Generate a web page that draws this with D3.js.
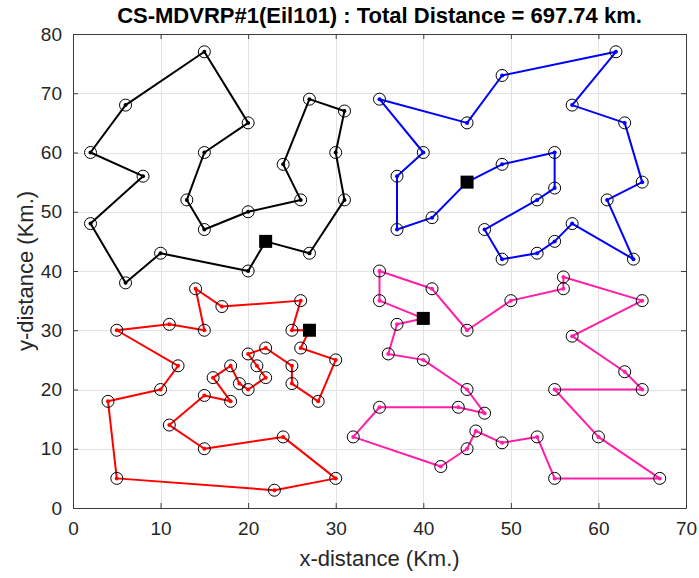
<!DOCTYPE html>
<html>
<head>
<meta charset="utf-8">
<script src="https://cdn.jsdelivr.net/npm/d3@7"></script>
<style>
  body { margin: 0; background: #fff; }
  text { font-family: "Liberation Sans", Arial, sans-serif; }
</style>
</head>
<body>
<div id="chart"></div>
<script>
// route data: depot first, customers in visiting order (route returns to depot)
const blackX = [22, 20, 10, 6, 2, 8, 2, 6, 15, 20, 15, 13, 15, 20, 26, 24, 27, 31, 30, 31, 27];
const blackY = [45, 40, 43, 38, 48, 56, 60, 68, 77, 65, 60, 52, 47, 50, 52, 58, 69, 67, 60, 52, 43];

const blueX = [45, 49, 55, 55, 53, 47, 49, 53, 55, 57, 64, 61, 65, 63, 57, 62, 49, 45, 35, 40, 37, 37, 41];
const blueY = [55, 58, 60, 54, 52, 47, 42, 43, 45, 48, 42, 52, 55, 65, 68, 77, 73, 65, 69, 60, 56, 47, 49];

const redX = [27, 25, 26, 17, 14, 15, 11, 5, 12, 10, 4, 5, 23, 30, 24, 15, 11, 15, 18, 16, 18, 19, 20, 22, 21, 20, 22, 25, 25, 28, 30, 26];
const redY = [30, 30, 35, 34, 37, 30, 31, 30, 24, 20, 18, 5, 3, 5, 12, 10, 14, 19, 18, 22, 24, 21, 20, 22, 24, 26, 27, 24, 21, 18, 25, 27];

const pinkX = [40, 35, 35, 41, 45, 50, 56, 56, 65, 57, 63, 65, 55, 60, 67, 55, 53, 49, 46, 45, 42, 32, 35, 44, 47, 45, 40, 36, 37];
const pinkY = [32, 35, 40, 37, 30, 35, 37, 39, 35, 29, 23, 20, 20, 12, 5, 5, 12, 11, 13, 10, 7, 12, 17, 17, 16, 20, 25, 26, 31];

const xTicks = [0, 10, 20, 30, 40, 50, 60, 70];
const yTicks = [0, 10, 20, 30, 40, 50, 60, 70, 80];

const routes = [
  { xs: blackX, ys: blackY, color: "#000000" },
  { xs: blueX, ys: blueY, color: "#0000ff" },
  { xs: redX, ys: redY, color: "#ff0000" },
  { xs: pinkX, ys: pinkY, color: "#ff1ea8" }
];

const width = 699, height = 578;
const margin = { left: 73, right: 13, top: 34, bottom: 70 };
const plotW = width - margin.left - margin.right;
const plotH = height - margin.top - margin.bottom;

const svg = d3.select("#chart").append("svg")
  .attr("width", width)
  .attr("height", height);

const x = d3.scaleLinear().domain([0, 70]).range([0, plotW]);
const y = d3.scaleLinear().domain([0, 80]).range([plotH, 0]);

const g = svg.append("g")
  .attr("transform", "translate(" + margin.left + "," + margin.top + ")");

// grid
g.append("g").selectAll("line.gx")
  .data(xTicks.slice(1, -1))
  .enter().append("line")
  .attr("x1", d => Math.round(x(d)) + 0.5).attr("x2", d => Math.round(x(d)) + 0.5)
  .attr("y1", 0).attr("y2", plotH)
  .attr("stroke", "#e3e3e3").attr("stroke-width", 1);
g.append("g").selectAll("line.gy")
  .data(yTicks.slice(1, -1))
  .enter().append("line")
  .attr("y1", d => Math.round(y(d)) + 0.5).attr("y2", d => Math.round(y(d)) + 0.5)
  .attr("x1", 0).attr("x2", plotW)
  .attr("stroke", "#e3e3e3").attr("stroke-width", 1);

// axes (ticks inside, on all four sides)
const axisColor = "#3c3c3c";
const tickFont = "19px";

const xAxis = g.append("g")
  .attr("transform", "translate(0," + plotH + ")")
  .call(d3.axisBottom(x).tickValues(xTicks).tickSizeInner(-5).tickSizeOuter(0).tickPadding(14));
const yAxis = g.append("g")
  .call(d3.axisLeft(y).tickValues(yTicks).tickSizeInner(-5).tickSizeOuter(0).tickPadding(11));
const xTop = g.append("g")
  .call(d3.axisTop(x).tickValues(xTicks).tickSizeInner(-5).tickSizeOuter(0).tickFormat(""));
const yRight = g.append("g")
  .attr("transform", "translate(" + plotW + ",0)")
  .call(d3.axisRight(y).tickValues(yTicks).tickSizeInner(-5).tickSizeOuter(0).tickFormat(""));

[xAxis, yAxis, xTop, yRight].forEach(a => {
  a.select(".domain").attr("stroke", axisColor);
  a.selectAll(".tick line").attr("stroke", axisColor);
  a.selectAll(".tick text")
    .style("font-size", tickFont)
    .style("font-family", "'Liberation Sans', Arial, sans-serif")
    .attr("fill", "#262626");
});

// routes
routes.forEach(r => {
  const pts = r.xs.map((v, i) => [v, r.ys[i]]);
  pts.push(pts[0]);
  const line = d3.line().x(d => x(d[0])).y(d => y(d[1]));

  g.append("path")
    .datum(pts)
    .attr("d", line)
    .attr("fill", "none")
    .attr("stroke", r.color)
    .attr("stroke-width", 2)
    .attr("stroke-linejoin", "round");

  const customers = pts.slice(1, -1);

  g.append("g").selectAll("circle.dot")
    .data(customers)
    .enter().append("circle")
    .attr("cx", d => x(d[0]))
    .attr("cy", d => y(d[1]))
    .attr("r", 2)
    .attr("fill", r.color);

  g.append("g").selectAll("circle.ring")
    .data(customers)
    .enter().append("circle")
    .attr("cx", d => x(d[0]))
    .attr("cy", d => y(d[1]))
    .attr("r", 6)
    .attr("fill", "none")
    .attr("stroke", "#000")
    .attr("stroke-width", 1);

  // depot
  g.append("rect")
    .attr("x", x(pts[0][0]) - 6.5)
    .attr("y", y(pts[0][1]) - 6.5)
    .attr("width", 13)
    .attr("height", 13)
    .attr("fill", "#000");
});

// title and labels
svg.append("text")
  .attr("x", margin.left + plotW / 2)
  .attr("y", 23)
  .attr("text-anchor", "middle")
  .style("font-size", "22px")
  .style("font-weight", "bold")
  .attr("fill", "#000")
  .text("CS-MDVRP#1(Eil101) : Total Distance = 697.74 km.");

svg.append("text")
  .attr("x", margin.left + plotW / 2)
  .attr("y", 566)
  .attr("text-anchor", "middle")
  .style("font-size", "22px")
  .attr("fill", "#262626")
  .text("x-distance (Km.)");

svg.append("text")
  .attr("transform", "translate(33," + (margin.top + plotH / 2) + ") rotate(-90)")
  .attr("text-anchor", "middle")
  .style("font-size", "22px")
  .attr("fill", "#262626")
  .text("y-distance (Km.)");
</script>
</body>
</html>
